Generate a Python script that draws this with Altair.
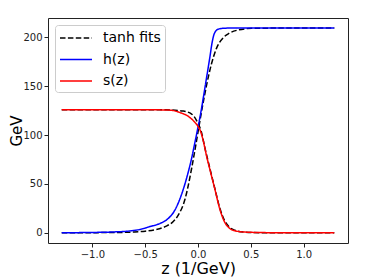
import altair as alt
import pandas as pd

# h(z) - blue
h_z = [-1.29, -1.0, -0.8, -0.65, -0.55, -0.455, -0.36, -0.3, -0.22, -0.15, -0.1, -0.065,
       -0.03, 0.0, 0.02, 0.05, 0.08, 0.11, 0.135, 0.15, 0.165, 0.19, 0.23, 0.30, 0.5, 1.0, 1.29]
h_v = [0.0, 0.3, 0.8, 1.8, 3.4, 6.3, 9.5, 13.0, 23.0, 41.0, 59.0, 74.0,
       92.0, 108.0, 119.0, 138.0, 158.0, 178.0, 195.5, 202.5, 206.0, 208.3, 209.2, 209.5, 209.5, 209.5, 209.5]

# s(z) - red
s_z = [-1.29, -0.8, -0.6, -0.455, -0.266, -0.17, -0.09, -0.03, 0.0, 0.02, 0.05, 0.08,
       0.112, 0.16, 0.207, 0.254, 0.3, 0.35, 0.43, 0.55, 0.8, 1.29]
s_v = [126.0, 126.0, 126.0, 125.9, 125.5, 123.0, 119.0, 113.0, 109.0, 105.0, 94.0, 79.0,
       65.0, 44.5, 24.0, 10.5, 4.5, 2.0, 0.8, 0.3, 0.0, 0.0]

# tanh fit to h(z) - black dashed
fh_z = [-1.29, -0.8, -0.6, -0.5, -0.4, -0.3, -0.234, -0.187, -0.124, -0.06, -0.03, 0.0,
        0.04, 0.081, 0.128, 0.176, 0.238, 0.292, 0.38, 0.51, 0.8, 1.29]
fh_v = [0.0, 0.2, 0.8, 1.6, 3.2, 6.8, 11.5, 18.0, 34.0, 66.0, 84.0, 103.0,
        128.0, 151.0, 173.0, 189.0, 199.5, 204.0, 207.5, 209.2, 209.5, 209.5]

# tanh fit to s(z) - black dashed
fs_z = [-1.29, -0.6, -0.3, -0.14, -0.06, 0.0, 0.03, 0.065, 0.112, 0.16, 0.207, 0.254,
        0.3, 0.35, 0.43, 0.6, 1.29]
fs_v = [126.0, 126.0, 125.8, 124.5, 121.5, 112.0, 104.0, 87.0, 66.0, 45.0, 25.0, 12.0,
        5.5, 2.5, 0.8, 0.1, 0.0]

labels = ["tanh fits", "h(z)", "s(z)"]
colors = ["#000000", "#0000ff", "#ff0000"]
dashes = [[5.5, 2.4], [1, 0], [1, 0]]

rows = []
for z, v in zip(fh_z, fh_v):
    rows.append({"z": z, "v": v, "series": "tanh fits", "curve": "fh"})
for z, v in zip(fs_z, fs_v):
    rows.append({"z": z, "v": v, "series": "tanh fits", "curve": "fs"})
for z, v in zip(h_z, h_v):
    rows.append({"z": z, "v": v, "series": "h(z)", "curve": "h"})
for z, v in zip(s_z, s_v):
    rows.append({"z": z, "v": v, "series": "s(z)", "curve": "s"})
df = pd.DataFrame(rows)

legend = alt.Legend(
    title=None, orient="top-left", offset=7, symbolType="M-1,0H3", symbolSize=256,
    symbolStrokeWidth=1.5, labelFontSize=14, labelFont="DejaVu Sans", labelColor="black",
    padding=4, rowPadding=5.5, strokeColor="#cccccc", fillColor="white", cornerRadius=3,
    labelOffset=26,
)

base = alt.Chart(df).mark_line(strokeWidth=1.5, interpolate="monotone").encode(
    x=alt.X("z:Q", scale=alt.Scale(domain=[-1.42, 1.42], nice=False, zero=False),
            axis=alt.Axis(values=[-1.0, -0.5, 0.0, 0.5, 1.0], format=".1f", title="z (1/GeV)")),
    y=alt.Y("v:Q", scale=alt.Scale(domain=[-10.5, 219.8], nice=False, zero=False),
            axis=alt.Axis(values=[0, 50, 100, 150, 200], title="GeV", titleX=-24,
                          titleFontSize=15)),
    color=alt.Color("series:N", scale=alt.Scale(domain=labels, range=colors), legend=legend),
    strokeDash=alt.StrokeDash("series:N", scale=alt.Scale(domain=labels, range=dashes), legend=legend),
    detail="curve:N",
)

fits = base.transform_filter(alt.datum.series == "tanh fits")
hl = base.transform_filter(alt.datum.series == "h(z)")
sl = base.transform_filter(alt.datum.series == "s(z)")

chart = alt.layer(fits, hl, sl).properties(
    width=300, height=225,
    autosize="none",
    padding={"left": 40, "top": 10, "right": 18, "bottom": 37},
).configure_view(
    stroke="#222222", strokeWidth=1
).configure_axis(
    grid=False, domain=False, tickColor="#222222", tickSize=4, tickWidth=1,
    labelFont="DejaVu Sans", labelFontSize=10, labelColor="#222222", labelPadding=2,
    titleFont="DejaVu Sans", titleFontSize=16, titleFontWeight="normal", titleColor="black",
).configure_axisX(
    titlePadding=1
)

chart.save("out.html", embed_options={"renderer": "svg", "actions": False})
